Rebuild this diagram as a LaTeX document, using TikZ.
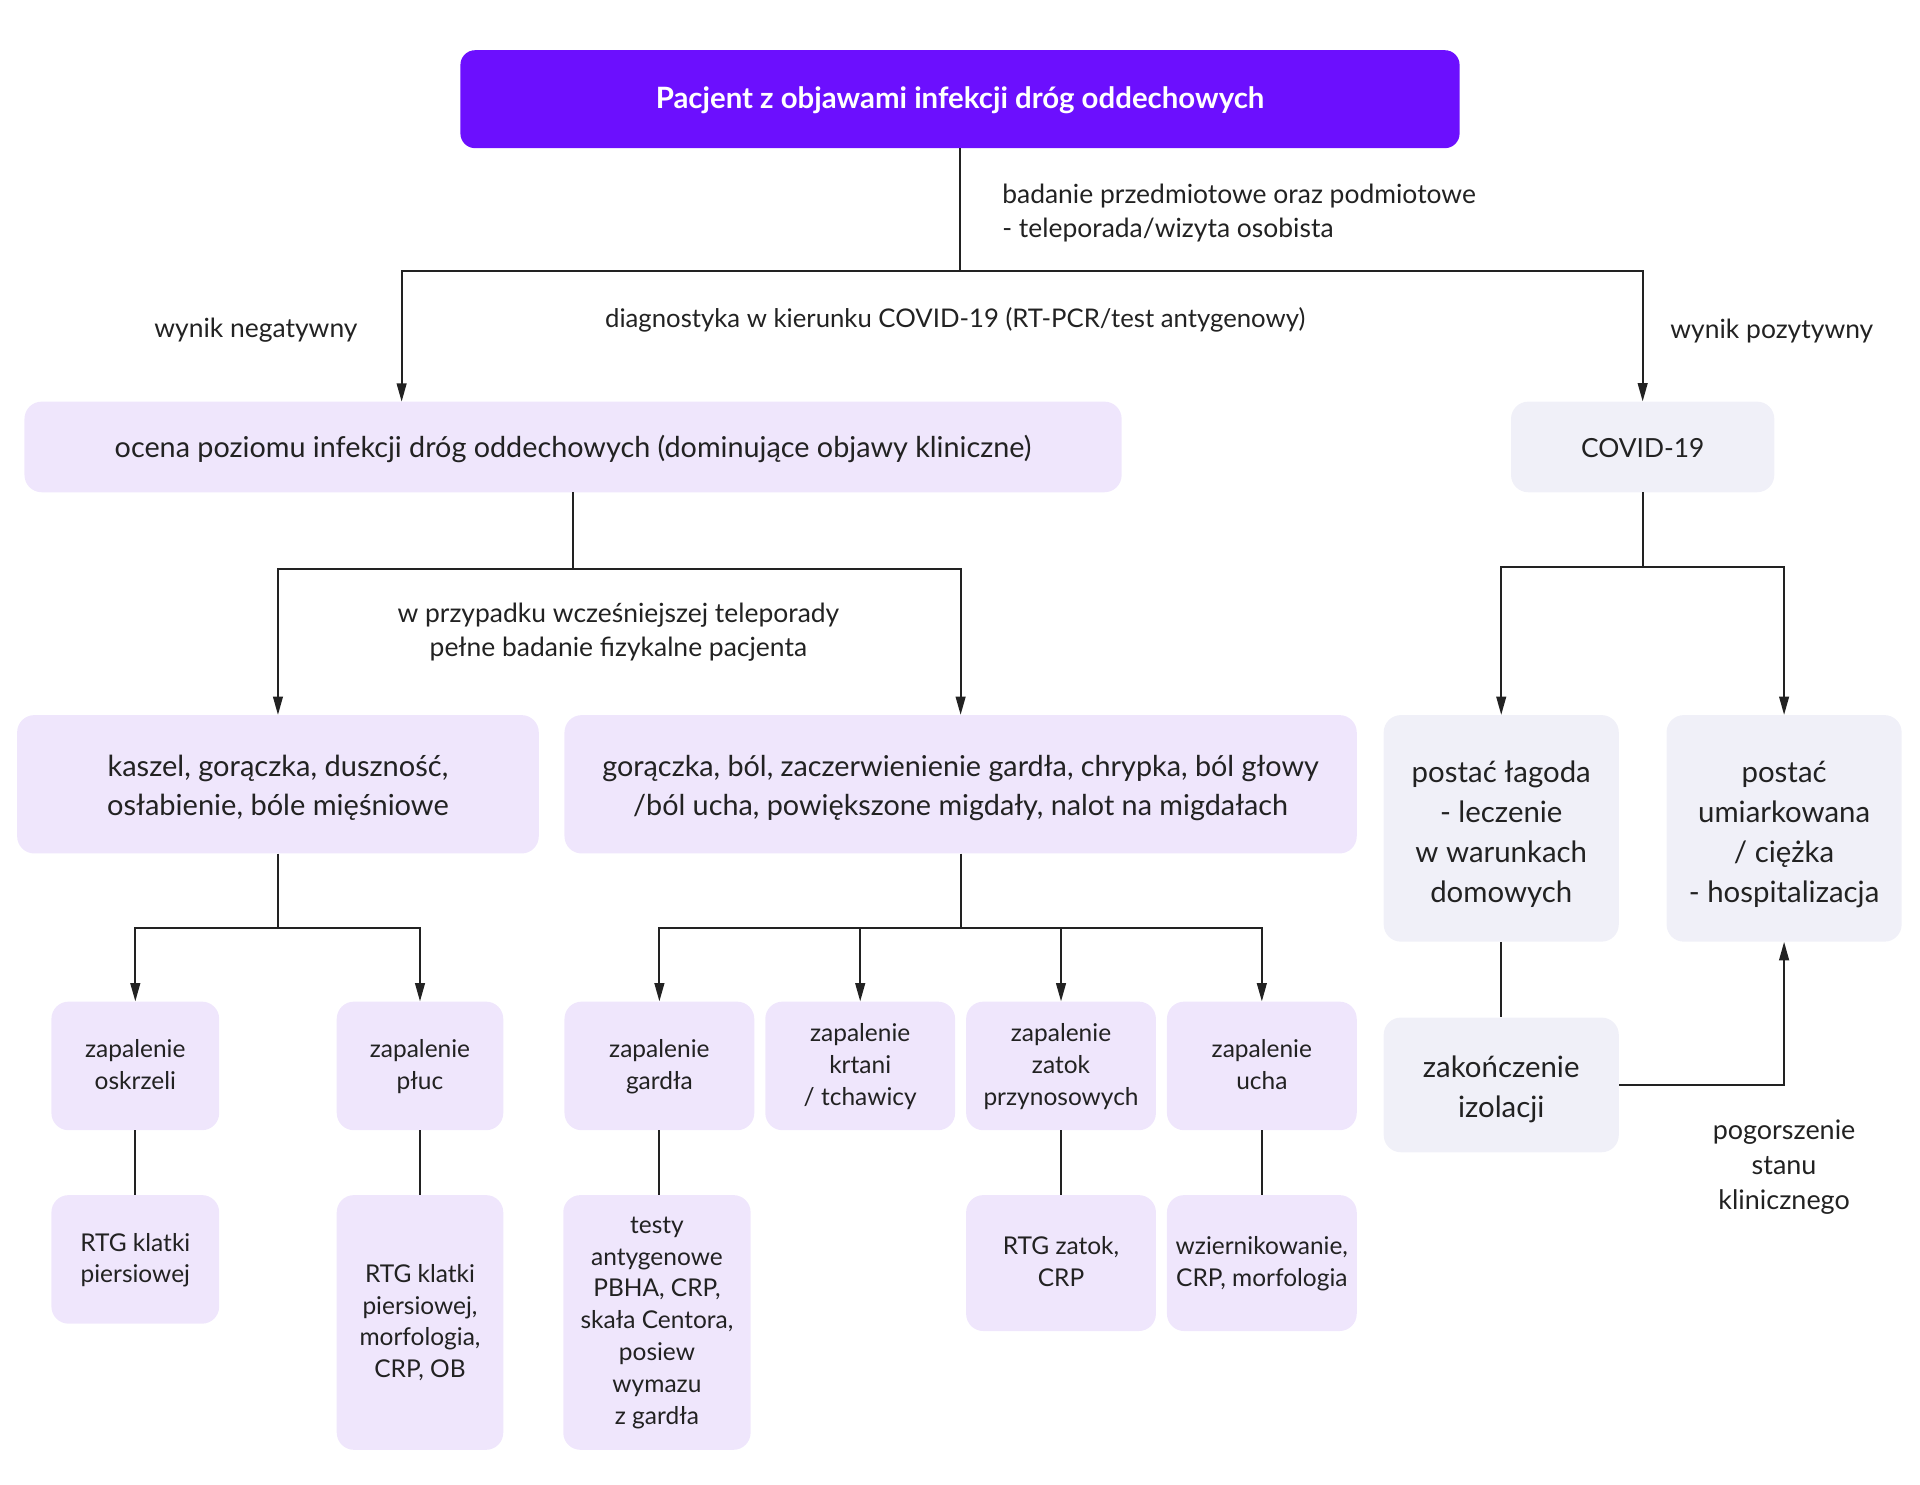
\documentclass[tikz,border=0pt]{standalone}
\usepackage{fontspec}
\setmainfont{Lato}
\usetikzlibrary{arrows.meta}
\definecolor{violetmain}{HTML}{6C0FFE}
\definecolor{lav}{HTML}{EFE6FC}
\definecolor{greyb}{HTML}{F0F0F8}
\definecolor{ink}{HTML}{222222}
\newcommand\tabtxt[1]{\begin{tabular}{@{}c@{}}#1\end{tabular}}
\newcommand\boxtxt[2]{\vphantom{\tabtxt{#2}}\raisebox{-#1}{\smash{\tabtxt{#2}}}}
\tikzset{
  box/.style={rounded corners=14pt, fill=lav, draw=none, align=center, text=ink, inner sep=2pt},
  gbox/.style={box, fill=greyb},
  lbl/.style={text=ink, font=\fontsize{21.6}{28}\selectfont},
  conn/.style={draw=ink, line width=1.5pt},
  arr/.style={conn, -{Triangle[length=15pt,width=8pt]}},
  fs/.style={font=\fontsize{20}{26}\selectfont},
  fm/.style={font=\fontsize{23.5}{28}\selectfont},
  fl/.style={font=\fontsize{23.7}{32.5}\selectfont},
  fp/.style={font=\fontsize{24}{32.5}\selectfont},
}
\begin{document}
\begin{tikzpicture}[x=1pt,y=-1pt]
\useasboundingbox (0,0) rectangle (1568,1212.7);
% boxes
\node[box, fill=violetmain, text=white, rounded corners=12pt, minimum width=816pt, minimum height=80pt, font=\bfseries\fontsize{24}{28}\selectfont] (top) at (784,81) {\boxtxt{2pt}{Pacjent z objawami infekcji dróg oddechowych}};
\node[box, fm, minimum width=896pt, minimum height=74pt] (ocena) at (468,365) {\boxtxt{3pt}{ocena poziomu infekcji dróg oddechowych (dominujące objawy kliniczne)}};
\node[gbox, fm, font=\fontsize{21.5}{28}\selectfont, minimum width=215pt, minimum height=74pt] (covid) at (1341.5,365) {\boxtxt{3pt}{COVID-19}};
\node[box, fl, minimum width=426pt, minimum height=113pt] (kaszel) at (227,640.5) {\boxtxt{3pt}{kaszel, gorączka, duszność,\\osłabienie, bóle mięśniowe}};
\node[box, fl, font=\fontsize{23.5}{32.5}\selectfont, minimum width=647pt, minimum height=113pt] (gor) at (784.5,640.5) {\boxtxt{3pt}{gorączka, ból, zaczerwienienie gardła, chrypka, ból głowy\\/ból ucha, powiększone migdały, nalot na migdałach}};
\node[box, fs, minimum width=137pt, minimum height=105pt] (oskrzeli) at (110.5,870.5) {\boxtxt{1pt}{zapalenie\\oskrzeli}};
\node[box, fs, minimum width=136pt, minimum height=105pt] (pluc) at (343,870.5) {\boxtxt{1pt}{zapalenie\\płuc}};
\node[box, fs, minimum width=155pt, minimum height=105pt] (gardla) at (538.5,870.5) {\boxtxt{1pt}{zapalenie\\gardła}};
\node[box, fs, minimum width=155pt, minimum height=105pt] (krtani) at (702.5,870.5) {\boxtxt{1pt}{zapalenie\\krtani\\/ tchawicy}};
\node[box, fs, minimum width=155pt, minimum height=105pt] (zatok) at (866.5,870.5) {\boxtxt{1pt}{zapalenie\\zatok\\przynosowych}};
\node[box, fs, minimum width=155pt, minimum height=105pt] (ucha) at (1030.5,870.5) {\boxtxt{1pt}{zapalenie\\ucha}};
\node[box, fs, minimum width=137pt, minimum height=105pt] (rtg1) at (110.5,1028.5) {\boxtxt{1pt}{RTG klatki\\piersiowej}};
\node[box, fs, minimum width=136pt, minimum height=208pt] (rtg2) at (343,1080) {\boxtxt{1pt}{RTG klatki\\piersiowej,\\morfologia,\\CRP, OB}};
\node[box, fs, minimum width=153pt, minimum height=208pt] (testy) at (536.5,1080) {\boxtxt{0pt}{testy\\antygenowe\\PBHA, CRP,\\skała Centora,\\posiew\\wymazu\\z gardła}};
\node[box, fs, minimum width=155pt, minimum height=111pt] (rtgz) at (866.5,1031.5) {\boxtxt{1pt}{RTG zatok,\\CRP}};
\node[box, fs, minimum width=155pt, minimum height=111pt] (wzier) at (1030.5,1031.5) {\boxtxt{1pt}{wziernikowanie,\\CRP, morfologia}};
\node[gbox, fp, minimum width=192pt, minimum height=185pt] (lagodna) at (1226,676.5) {\boxtxt{5pt}{postać łagoda\\- leczenie\\w warunkach\\domowych}};
\node[gbox, fp, minimum width=192pt, minimum height=185pt] (umiark) at (1457,676.5) {\boxtxt{5pt}{postać\\umiarkowana\\/ ciężka\\- hospitalizacja}};
\node[gbox, fp, minimum width=192pt, minimum height=110pt] (zakon) at (1226,886) {\boxtxt{3.5pt}{zakończenie\\izolacji}};
% labels
\node[lbl, anchor=west, align=left] (badanie) at (815,174) {badanie przedmiotowe oraz podmiotowe\\- teleporada/wizyta osobista};
\node[lbl, font=\fontsize{21}{28}\selectfont] (diag) at (780,261) {diagnostyka w kierunku COVID-19 (RT-PCR/test antygenowy)};
\node[lbl] (neg) at (209,270) {wynik negatywny};
\node[lbl] (poz) at (1447,270) {wynik pozytywny};
\node[lbl, align=center] (wprz) at (505,516.5) {w przypadku wcześniejszej teleporady\\pełne badanie fizykalne pacjenta};
\node[lbl, font=\fontsize{22}{28.5}\selectfont, align=center] (pog) at (1457,953) {pogorszenie\\stanu\\klinicznego};
% junctions
\coordinate (b1) at (784,221);
\coordinate (negx) at (328,328);
\coordinate (b2) at (468,465);
\coordinate (b3) at (227,758);
\coordinate (b4) at (784.5,758);
\coordinate (b5) at (1341.5,463);
% connectors
\draw[conn] (top.south) -- (b1);
\draw[arr] (b1) -| (negx);
\draw[arr] (b1) -| (covid.north);
\draw[conn] (ocena.south) -- (b2);
\draw[arr] (b2) -| (kaszel.north);
\draw[arr] (b2) -| (gor.north);
\draw[conn] (kaszel.south) -- (b3);
\draw[arr] (b3) -| (oskrzeli.north);
\draw[arr] (b3) -| (pluc.north);
\draw[conn] (gor.south) -- (b4);
\draw[arr] (b4) -| (gardla.north);
\draw[arr] (b4) -| (krtani.north);
\draw[arr] (b4) -| (zatok.north);
\draw[arr] (b4) -| (ucha.north);
\draw[conn] (covid.south) -- (b5);
\draw[arr] (b5) -| (lagodna.north);
\draw[arr] (b5) -| (umiark.north);
\draw[conn] (oskrzeli.south) -- (rtg1.north);
\draw[conn] (pluc.south) -- (rtg2.north);
\draw[conn] (gardla.south) -- (gardla.south |- testy.north);
\draw[conn] (zatok.south) -- (rtgz.north);
\draw[conn] (ucha.south) -- (wzier.north);
\draw[conn] (lagodna.south) -- (zakon.north);
\draw[arr] (zakon.east) -| (umiark.south);
\end{tikzpicture}
\end{document}
